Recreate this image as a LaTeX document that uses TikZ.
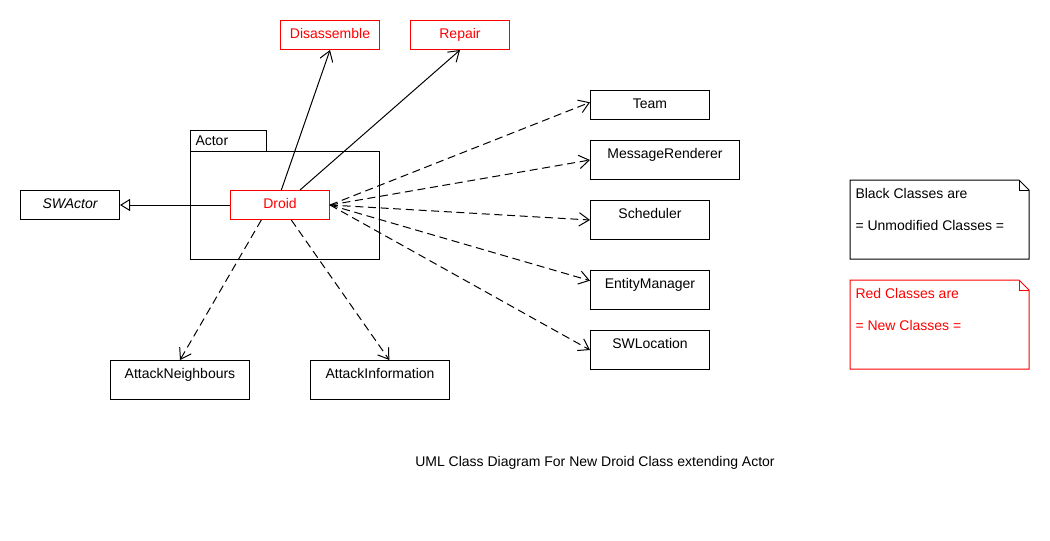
\documentclass[tikz,border=0pt]{standalone}
\usepackage{fontspec}
\setmainfont{Liberation Sans}
\usetikzlibrary{arrows.meta}

\begin{document}
\begin{tikzpicture}[x=0.75pt, y=-0.75pt, line width=0.75pt,
    font=\fontsize{10.5}{12}\selectfont,
    cls/.style={draw, inner sep=0pt, anchor=north west, minimum width=89.25pt,
      text height=13.5pt, text depth=8.25pt},
    tall/.style={text depth=15.75pt},
    newcls/.style={cls, draw=red, text=red, minimum width=74.25pt},
    uses/.style={-{Straight Barb[length=7.5pt,width=10pt]}},
    dep/.style={uses, dash pattern=on 6pt off 3.5pt},
    ext/.style={-{Triangle[open,length=7.5pt,width=9pt]}}]
      \useasboundingbox (0,0) rectangle (1050,540);

      % package Actor with the new Droid class
      \node[cls, minimum width=57pt, text depth=2.25pt, text height=13.5pt] (tab) at (190,130) {};
      \node[anchor=west, inner sep=0pt] (tabtxt) at (195,141) {Actor};
      \node[cls, minimum width=141.75pt, minimum height=81pt, text height=0pt, text depth=0pt] (pkg) at (190,151) {};
      \node[newcls] (droid) at (230,190) {Droid};

      \node[cls, minimum width=74.25pt] (swactor) at (20,190) {\itshape SWActor};
      \node[newcls] (dis) at (280,20) {Disassemble};
      \node[newcls] (rep) at (410,20) {Repair};

      \node[cls] (team) at (590,90) {Team};
      \node[cls, tall, minimum width=111.75pt] (msg) at (590,140) {MessageRenderer};
      \node[cls, tall] (sched) at (590,200) {Scheduler};
      \node[cls, tall] (ent) at (590,270) {EntityManager};
      \node[cls, tall] (loc) at (590,330) {SWLocation};
      \node[cls, tall, minimum width=104.25pt] (an) at (110,360) {AttackNeighbours};
      \node[cls, tall, minimum width=104.25pt] (ai) at (310,360) {AttackInformation};

      \draw[ext] (droid.west) -- (swactor.east);
      \draw[uses] ([xshift=1pt]droid.north) -- (dis.south);
      \draw[uses] ([xshift=15pt]droid.north) -- (rep.south);
      \draw[dep] (droid.east) -- ([yshift=2pt]team.west);
      \draw[dep] (droid.east) -- (msg.west);
      \draw[dep] (droid.east) -- (sched.west);
      \draw[dep] (droid.east) -- ([yshift=7pt]ent.west);
      \draw[dep] (droid.east) -- (loc.west);
      \draw[dep] ([xshift=-14pt]droid.south) -- (an.north);
      \draw[dep] ([xshift=8.5pt]droid.south) -- ([xshift=7pt]ai.north);

      % notes
      \draw (850,180) -- (1019,180) -- (1029,190) -- (1029,259) -- (850,259) -- cycle;
      \draw (1019,180) -- (1019,190) -- (1029,190);
      \node[anchor=west, inner sep=0pt] (blk1) at (855,193) {Black Classes are};
      \node[anchor=west, inner sep=0pt] (blk2) at (855,225) {= Unmodified Classes =};

      \draw[red] (850,280) -- (1019,280) -- (1029,290) -- (1029,369) -- (850,369) -- cycle;
      \draw[red] (1019,280) -- (1019,290) -- (1029,290);
      \node[anchor=west, inner sep=0pt, text=red] (red1) at (855,293) {Red Classes are};
      \node[anchor=west, inner sep=0pt, text=red] (red2) at (855,325) {= New Classes =};

      \node (title) at (595,463) {UML Class Diagram For New Droid Class extending Actor};
\end{tikzpicture}
\end{document}
